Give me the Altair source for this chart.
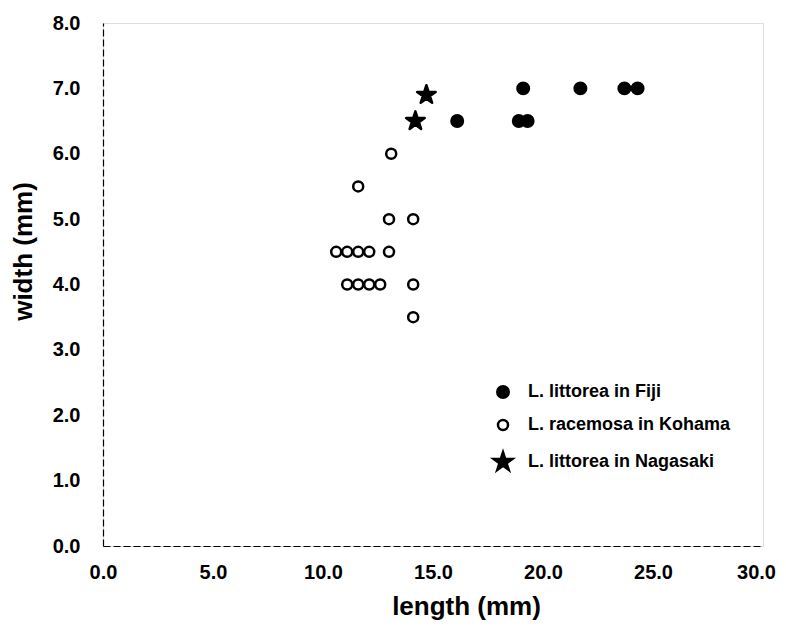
import altair as alt
import pandas as pd

# Data
fiji_length = [19.1, 21.7, 23.7, 24.3, 16.1, 18.9, 19.3]
fiji_width = [7.0, 7.0, 7.0, 7.0, 6.5, 6.5, 6.5]

kohama_length = [13.1, 11.6, 13.0, 14.1, 10.6, 11.1, 11.6, 12.1, 13.0,
                 11.1, 11.6, 12.1, 12.6, 14.1, 14.1]
kohama_width = [6.0, 5.5, 5.0, 5.0, 4.5, 4.5, 4.5, 4.5, 4.5,
                4.0, 4.0, 4.0, 4.0, 4.0, 3.5]

nagasaki_length = [14.7, 14.2]
nagasaki_width = [6.9, 6.5]

groups = ["L. littorea in Fiji", "L. racemosa in Kohama", "L. littorea in Nagasaki"]
x_ticks = [0, 5, 10, 15, 20, 25, 30]
y_ticks = [0, 1, 2, 3, 4, 5, 6, 7, 8]

rows = []
for g, xs, ys in zip(groups,
                     [fiji_length, kohama_length, nagasaki_length],
                     [fiji_width, kohama_width, nagasaki_width]):
    for a, b in zip(xs, ys):
        rows.append({"group": g, "length": a, "width": b})
df = pd.DataFrame(rows)

STAR = ("M0,-1L0.225,-0.309L0.951,-0.309L0.363,0.118L0.588,0.809L0,0.382"
        "L-0.588,0.809L-0.363,0.118L-0.951,-0.309L-0.225,-0.309Z")

FONT = "Liberation Sans"


def legend():
    return alt.Legend(title=None, orient="none", legendX=389, legendY=360,
                      labelFontSize=18, labelFont=FONT, labelFontWeight="bold",
                      labelColor="black", labelOffset=14, labelLimit=400,
                      rowPadding=12, symbolStrokeColor="black",
                      symbolStrokeWidth=2.5, padding=0)


chart = alt.Chart(df).mark_point(
    filled=False, color="black", stroke="black", strokeWidth=2.5,
    strokeJoin="round", opacity=1
).encode(
    x=alt.X("length:Q",
            scale=alt.Scale(domain=[0, 30], nice=False),
            axis=alt.Axis(title="length (mm)", values=x_ticks, format=".1f",
                          grid=False, ticks=False, labelPadding=16, labelFlush=False,
                          labelOffset={"condition": {"test": "datum.value == 30",
                                                     "value": -7}, "value": 0},
                          labelFontSize=20, labelFontWeight="bold", labelFont=FONT,
                          labelColor="black",
                          domainColor="black", domainWidth=1.2, domainDash=[7, 3],
                          titleFontSize=26, titleFontWeight="bold", titleFont=FONT,
                          titleColor="black",
                          titleX=363, titleY=68, titleBaseline="alphabetic",
                          titleAlign="center")),
    y=alt.Y("width:Q",
            scale=alt.Scale(domain=[0, 8], nice=False),
            axis=alt.Axis(title="width (mm)", values=y_ticks, format=".1f",
                          grid=False, ticks=False, labelPadding=23, labelFlush=False,
                          labelFontSize=20, labelFontWeight="bold", labelFont=FONT,
                          labelColor="black",
                          domainColor="black", domainWidth=1.2, domainDash=[7, 3],
                          titleFontSize=26, titleFontWeight="bold", titleFont=FONT,
                          titleColor="black", titleAngle=270,
                          titleX=-72, titleY=228, titleBaseline="alphabetic",
                          titleAlign="center")),
    shape=alt.Shape("group:N",
                    scale=alt.Scale(domain=groups, range=["circle", "circle", STAR]),
                    legend=legend()),
    fill=alt.Fill("group:N",
                  scale=alt.Scale(domain=groups, range=["black", "white", "black"]),
                  legend=legend()),
    stroke=alt.Stroke("group:N",
                      scale=alt.Scale(domain=groups, range=["black", "black", "black"]),
                      legend=legend()),
    size=alt.Size("group:N",
                  scale=alt.Scale(type="ordinal", domain=groups, range=[132, 100, 380]),
                  legend=legend()),
).properties(
    width=660, height=523,
    autosize=alt.AutoSizeParams(type="none"),
    padding={"left": 95, "top": 15, "right": 15, "bottom": 74},
).configure_view(stroke=None).configure(background="white")

chart.save("out.html", embed_options={"renderer": "svg", "actions": False})
